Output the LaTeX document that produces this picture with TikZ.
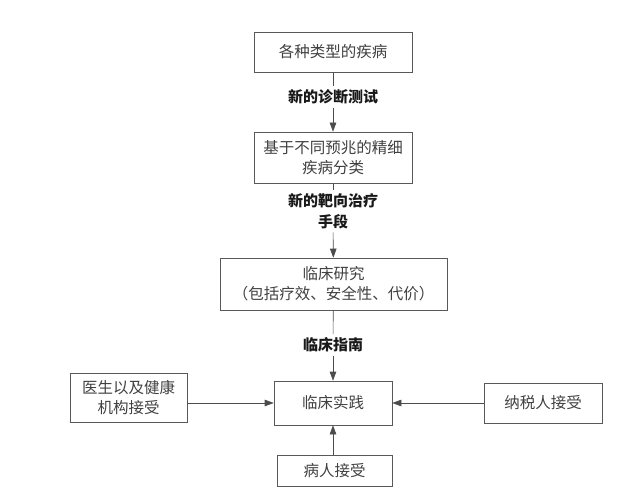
\documentclass[tikz,border=0pt]{standalone}
\usepackage{fontspec}
\newfontfamily\cjk{Noto Sans CJK SC}
\usetikzlibrary{arrows.meta}
\tikzset{
  stage/.style={draw=black!65, line width=0.6pt, text=black!75, font=\cjk\fontsize{15.5}{20}\selectfont, align=center, inner sep=0pt},
  tag/.style={text=black!90, font=\cjk\bfseries\fontsize{15}{21}\selectfont, align=center, inner sep=3.5pt},
  link/.style={draw=black!70, line width=0.6pt},
  flow/.style={link, -{Triangle[length=9pt,width=6.5pt]}}
}

\begin{document}
\begin{tikzpicture}[x=1pt, y=-1pt]
			%%%%% START %%%%%
			\useasboundingbox (0, 0) rectangle (640, 500);
			
			\node[stage, minimum width=158, minimum height=40] (kinds) at (333, 52) {各种类型的疾病};
			\node[tag] (test) at (333, 97) {新的诊断测试};
			
			\node[stage, minimum width=158, minimum height=51] (classify) at (333, 157.5) {基于不同预兆的精细\\疾病分类};
			\node[tag] (target) at (333, 211) {新的靶向治疗\\手段};
			
			\node[stage, minimum width=227, minimum height=52] (study) at (333.5, 284) {临床研究\\（包括疗效、安全性、代价）};
			\node[tag] (guide) at (333, 345) {临床指南};
			
			\node[stage, minimum width=118, minimum height=44] (practice) at (333, 403) {临床实践};
			\node[stage, minimum width=117, minimum height=49] (doctor) at (128.5, 397.5) {医生以及健康\\机构接受};
			\node[stage, minimum width=118, minimum height=40] (payer) at (543, 403) {纳税人接受};
			\node[stage, minimum width=115, minimum height=31] (patient) at (334.5, 471) {病人接受};
			
			\draw[link] (kinds) -- (test);
			\draw[flow] (test) -- (classify);
			\draw[link] (classify) -- (target);
			\draw[flow] (target) -- (study);
			\draw[link] (study) -- (guide);
			\draw[flow] (guide) -- (practice);
			
			\draw[flow] (doctor.east |- practice) -- (practice);
			\draw[flow] (payer) -- (practice);
			\draw[flow] (patient.north -| practice) -- (practice);
			
			%%%%% END %%%%%
		\end{tikzpicture}
\end{document}
